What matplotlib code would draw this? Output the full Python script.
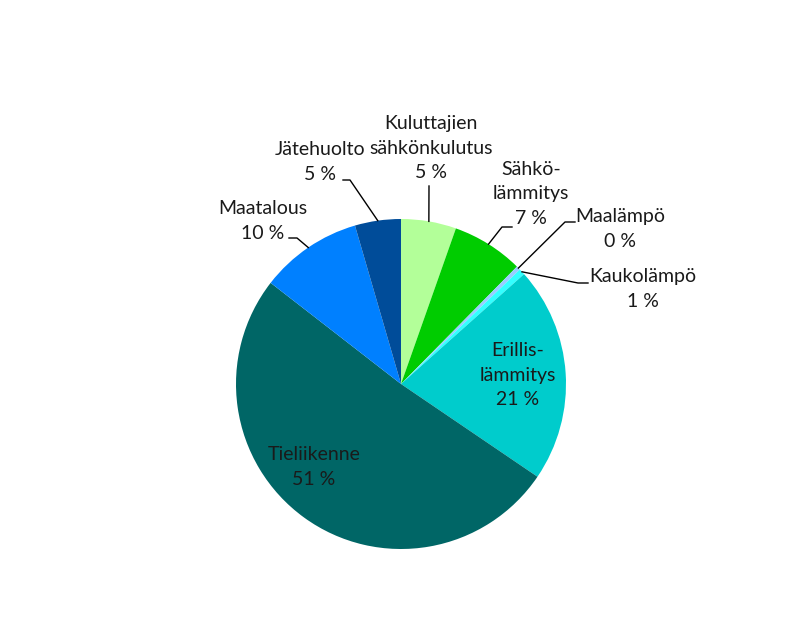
import numpy as np
import matplotlib.pyplot as plt

# Shares of emissions (%), clockwise from 12 o'clock
labels = ['Kuluttajien\nsähkönkulutus', 'Sähkö-\nlämmitys', 'Maalämpö', 'Kaukolämpö',
          'Erillis-\nlämmitys', 'Tieliikenne', 'Maatalous', 'Jätehuolto']
values = [5.4, 7.0, 0.4, 0.6, 21.1, 51.0, 10.0, 4.5]
shown = ['5 %', '7 %', '0 %', '1 %', '21 %', '51 %', '10 %', '5 %']
colors = ['#b3ff99', '#00cc00', '#99ccff', '#33ffff',
          '#00cccc', '#006666', '#0080ff', '#004c99']

W, H = 807, 624
CX, CY, R = 401, 384, 165  # pie centre and radius in pixels


def px(x, y):
    """pixel (from top-left) -> data units, pie radius = 1"""
    return (x - CX) / R, (CY - y) / R


fig = plt.figure(figsize=(W / 100, H / 100), dpi=100)
ax = fig.add_axes([0, 0, 1, 1])

ax.pie(values, colors=colors, startangle=90, counterclock=False, radius=1,
       wedgeprops=dict(linewidth=0))

ax.set_xlim(-CX / R, (W - CX) / R)
ax.set_ylim(-(H - CY) / R, CY / R)
ax.set_aspect('equal')
ax.axis('off')

font = dict(family=['Lato', 'DejaVu Sans'], fontsize=14, color='#1a1a1a',
            linespacing=1.55, ha='center', va='center')

# mid angle of each wedge (clockwise from top)
cum = np.cumsum([0] + values)
mids = np.deg2rad(3.6 * (cum[:-1] + cum[1:]) / 2)
edge = [(np.sin(a), np.cos(a)) for a in mids]

# outside labels: text position, elbow, line end near text
outside = {
    0: dict(text=(431, 148), pts=[(429, 186)]),
    1: dict(text=(531, 194), pts=[(502, 227), (512, 227)]),
    2: dict(text=(620, 229), pts=[(565, 222), (575, 222)]),
    3: dict(text=(643, 289), pts=[(578, 283), (588, 283)]),
    6: dict(text=(263, 221), pts=[(297, 238), (289, 238)]),
    7: dict(text=(320, 162), pts=[(350, 180), (343, 180)]),
}
for i, o in outside.items():
    x0, y0 = edge[i]
    xs = [x0] + [px(*p)[0] for p in o['pts']]
    ys = [y0] + [px(*p)[1] for p in o['pts']]
    ax.plot(xs, ys, color='black', lw=1)
    ax.text(*px(*o['text']), f'{labels[i]}\n{shown[i]}', **font)

# inside labels
ax.text(*px(518, 375), f'{labels[4]}\n{shown[4]}', **font)
ax.text(*px(314, 467), f'{labels[5]}\n{shown[5]}', **font)

fig.savefig('out.png', dpi=100)
